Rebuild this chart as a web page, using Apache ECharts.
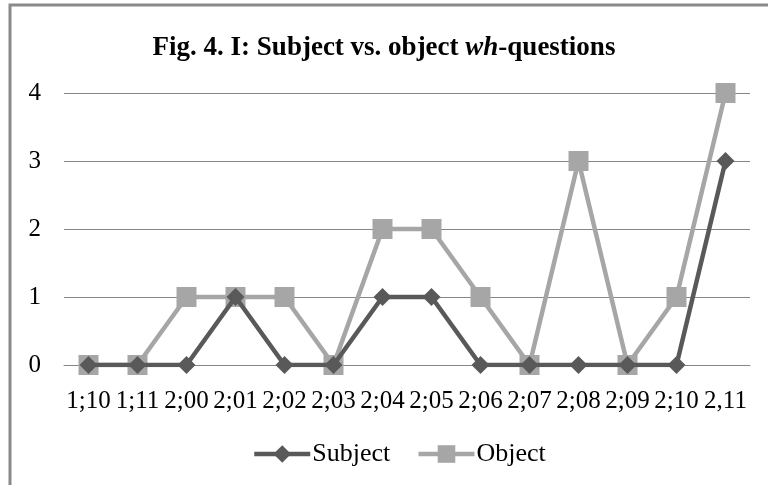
<!DOCTYPE html>
<html>
<head>
<meta charset="utf-8">
<script src="https://cdn.jsdelivr.net/npm/echarts@6/dist/echarts.min.js"></script>
<style>
  html, body { margin: 0; padding: 0; background: #ffffff; }
  #chart { width: 768px; height: 485px; }
</style>
</head>
<body>
<div id="chart"></div>
<script>
// Age points (years;months)
var ages = ['1;10', '1;11', '2;00', '2;01', '2;02', '2;03', '2;04', '2;05', '2;06', '2;07', '2;08', '2;09', '2;10', '2,11'];
// Counts of wh-questions per session
var subjectQ = [0, 0, 0, 1, 0, 0, 1, 1, 0, 0, 0, 0, 0, 3];
var objectQ  = [0, 0, 1, 1, 1, 0, 2, 2, 1, 0, 3, 0, 1, 4];
var yTicks = [0, 1, 2, 3, 4];

var serif = '"Liberation Serif", "Times New Roman", serif';
var chart = echarts.init(document.getElementById('chart'), null, { renderer: 'canvas' });

chart.setOption({
  backgroundColor: '#ffffff',
  animation: false,
  title: {
    text: '{a|Fig. 4. I: Subject vs. object }{b|wh}{a|-questions}',
    left: 'center',
    top: 30,
    textStyle: {
      rich: {
        a: { fontFamily: serif, fontWeight: 'bold', fontSize: 27, color: '#000' },
        b: { fontFamily: serif, fontWeight: 'bold', fontStyle: 'italic', fontSize: 27, color: '#000' }
      }
    }
  },
  graphic: [{
    type: 'rect',
    shape: { x: 10, y: 5, width: 820, height: 600 },
    style: { fill: 'none', stroke: '#8a8a8a', lineWidth: 3 },
    silent: true
  }],
  grid: { left: 64, right: 18, top: 93, bottom: 120 },
  legend: {
    left: 247,
    top: 436,
    itemWidth: 56,
    itemHeight: 22,
    itemGap: 26,
    lineStyle: { width: 4.5 },
    textStyle: { fontFamily: serif, fontSize: 26, color: '#000', padding: [0, 0, 0, -3] },
    data: ['Subject', 'Object']
  },
  xAxis: {
    type: 'category',
    data: ages,
    boundaryGap: true,
    axisLine: { show: true, lineStyle: { color: '#868686', width: 1 } },
    axisTick: { show: false },
    axisLabel: { fontFamily: serif, fontSize: 25, color: '#000', margin: 24, interval: 0 }
  },
  yAxis: {
    type: 'value',
    min: yTicks[0],
    max: yTicks[yTicks.length - 1],
    interval: 1,
    axisLine: { show: false },
    axisTick: { show: false },
    axisLabel: { fontFamily: serif, fontSize: 25, color: '#000', margin: 23 },
    splitLine: { lineStyle: { color: '#868686', width: 1 } }
  },
  series: [{
    name: 'Subject',
    type: 'line',
    data: subjectQ,
    symbol: 'diamond',
    symbolSize: 18,
    z: 3,
    lineStyle: { color: '#595959', width: 4.5 },
    itemStyle: { color: '#595959' }
  }, {
    name: 'Object',
    type: 'line',
    data: objectQ,
    symbol: 'rect',
    symbolSize: 20,
    z: 2,
    lineStyle: { color: '#a6a6a6', width: 4.5 },
    itemStyle: { color: '#a6a6a6' }
  }]
});
</script>
</body>
</html>
